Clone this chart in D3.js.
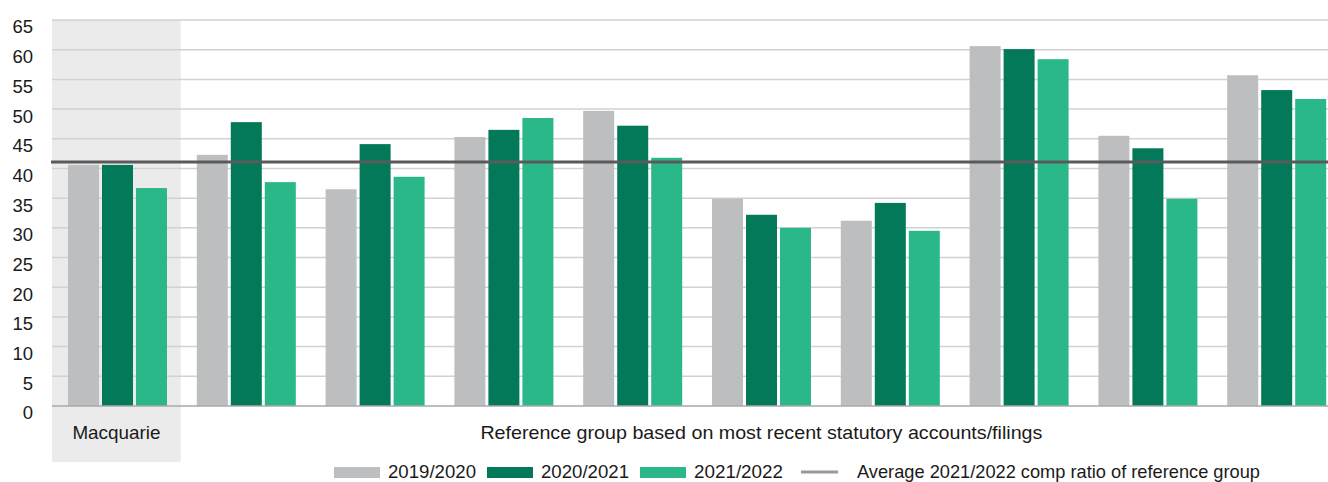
<!DOCTYPE html>
<html>
<head>
<meta charset="utf-8">
<script src="https://cdn.jsdelivr.net/npm/d3@7"></script>
<style>
  html, body { margin: 0; padding: 0; background: #fff; }
  svg { display: block; }
  text { font-family: "Liberation Sans", Arial, sans-serif; fill: #1a1a1a; }
</style>
</head>
<body>
<svg id="chart" width="1328" height="482"></svg>
<script>
const categories = ["Macquarie", "Peer A", "Peer B", "Peer C", "Peer D", "Peer E", "Peer F", "Peer G", "Peer H", "Peer I"];
const seriesNames = ["2019/2020", "2020/2021", "2021/2022"];
const values2019 = [40.6, 42.3, 36.5, 45.3, 49.7, 34.9, 31.2, 60.6, 45.5, 55.7];
const values2020 = [40.6, 47.8, 44.1, 46.5, 47.2, 32.2, 34.2, 60.1, 43.4, 53.2];
const values2021 = [36.7, 37.7, 38.6, 48.5, 41.8, 30.0, 29.5, 58.4, 34.9, 51.7];
const averageValue = [41.1];
const averageLabel = "Average 2021/2022 comp ratio of reference group";
const yTicks = [0, 5, 10, 15, 20, 25, 30, 35, 40, 45, 50, 55, 60, 65];
const groupLabel = "Reference group based on most recent statutory accounts/filings";
const colors = ["#bdbec0", "#03795a", "#2ab78a"];

(function () {
const svg = d3.select("#chart");
const W = 1328;
const mLeft = 52, mTop = 20, mBottom = 406;
const bandStep = 128.8;

const x0 = d3.scaleBand().domain(categories).range([mLeft, mLeft + bandStep * categories.length]).padding(0);
const x1 = d3.scaleBand().domain(seriesNames).range([16, 115]).paddingInner(3 / 34).paddingOuter(0);
const y = d3.scaleLinear().domain([0, 65]).range([mBottom, mTop]);

// Shaded Macquarie column
svg.append("rect")
  .attr("x", x0("Macquarie")).attr("y", mTop)
  .attr("width", x0.bandwidth()).attr("height", 462 - mTop)
  .attr("fill", "#ebebeb");

// Gridlines
svg.append("g").selectAll("line").data(yTicks.filter(d => d > 0)).join("line")
  .attr("x1", mLeft).attr("x2", W)
  .attr("y1", d => y(d)).attr("y2", d => y(d))
  .attr("stroke", "#d2d2d2").attr("stroke-width", 1.5);

// Y axis labels
const yAxis = d3.axisLeft(y).tickValues(yTicks).tickSize(0).tickPadding(0);
const yg = svg.append("g").attr("transform", "translate(33,0)").call(yAxis);
yg.select(".domain").remove();
yg.selectAll("text").attr("font-size", 18.5).attr("dy", "0.7em").attr("y", 0)
  .style("font-family", "'Liberation Sans', Arial, sans-serif").attr("fill", "#1a1a1a");

// Bars
const seriesValues = [values2019, values2020, values2021];
const barData = [];
categories.forEach((c, i) => {
  seriesNames.forEach((s, j) => barData.push({cat: c, series: s, value: seriesValues[j][i], color: colors[j]}));
});
svg.append("g").selectAll("rect").data(barData).join("rect")
  .attr("x", d => x0(d.cat) + x1(d.series))
  .attr("width", x1.bandwidth())
  .attr("y", d => y(d.value))
  .attr("height", d => y(0) - y(d.value))
  .attr("fill", d => d.color);

// Zero line
svg.append("line").attr("x1", mLeft).attr("x2", W)
  .attr("y1", y(0)).attr("y2", y(0))
  .attr("stroke", "#a9a9a9").attr("stroke-width", 1.5);

// Average line
svg.append("line").attr("x1", mLeft - 1).attr("x2", W)
  .attr("y1", y(averageValue[0])).attr("y2", y(averageValue[0]))
  .attr("stroke", "#5a5a5a").attr("stroke-width", 3);

// Category labels
svg.append("text")
  .attr("x", x0("Macquarie") + x0.bandwidth() / 2).attr("y", 439)
  .attr("text-anchor", "middle").attr("font-size", 18.5)
  .attr("textLength", 88).attr("lengthAdjust", "spacingAndGlyphs")
  .text(categories[0]);

const refStart = x0(categories[1]);
const refEnd = x0(categories[categories.length - 1]) + x0.bandwidth();
svg.append("text")
  .attr("x", (refStart + refEnd) / 2 + 1).attr("y", 439)
  .attr("text-anchor", "middle").attr("font-size", 18.5)
  .attr("textLength", 562).attr("lengthAdjust", "spacingAndGlyphs")
  .text(groupLabel);

// Legend
const legendItems = [
  {label: seriesNames[0], color: colors[0], type: "rect", w: 88},
  {label: seriesNames[1], color: colors[1], type: "rect", w: 88},
  {label: seriesNames[2], color: colors[2], type: "rect", w: 89},
  {label: averageLabel, color: "#999999", type: "line", w: 403}
];
const legend = svg.append("g");
let lx = 334;
const ly = 472;
legendItems.forEach(item => {
  if (item.type === "rect") {
    legend.append("rect").attr("x", lx).attr("y", ly - 5).attr("width", 46).attr("height", 11).attr("fill", item.color);
    lx += 54;
  } else {
    lx += 7;
    legend.append("line").attr("x1", lx).attr("x2", lx + 37).attr("y1", ly).attr("y2", ly)
      .attr("stroke", item.color).attr("stroke-width", 3);
    lx += 56;
  }
  legend.append("text").attr("x", lx).attr("y", ly + 6).attr("font-size", 18.5)
    .attr("textLength", item.w).attr("lengthAdjust", "spacingAndGlyphs")
    .text(item.label);
  lx += item.w + 11;
});
})();
</script>
</body>
</html>
